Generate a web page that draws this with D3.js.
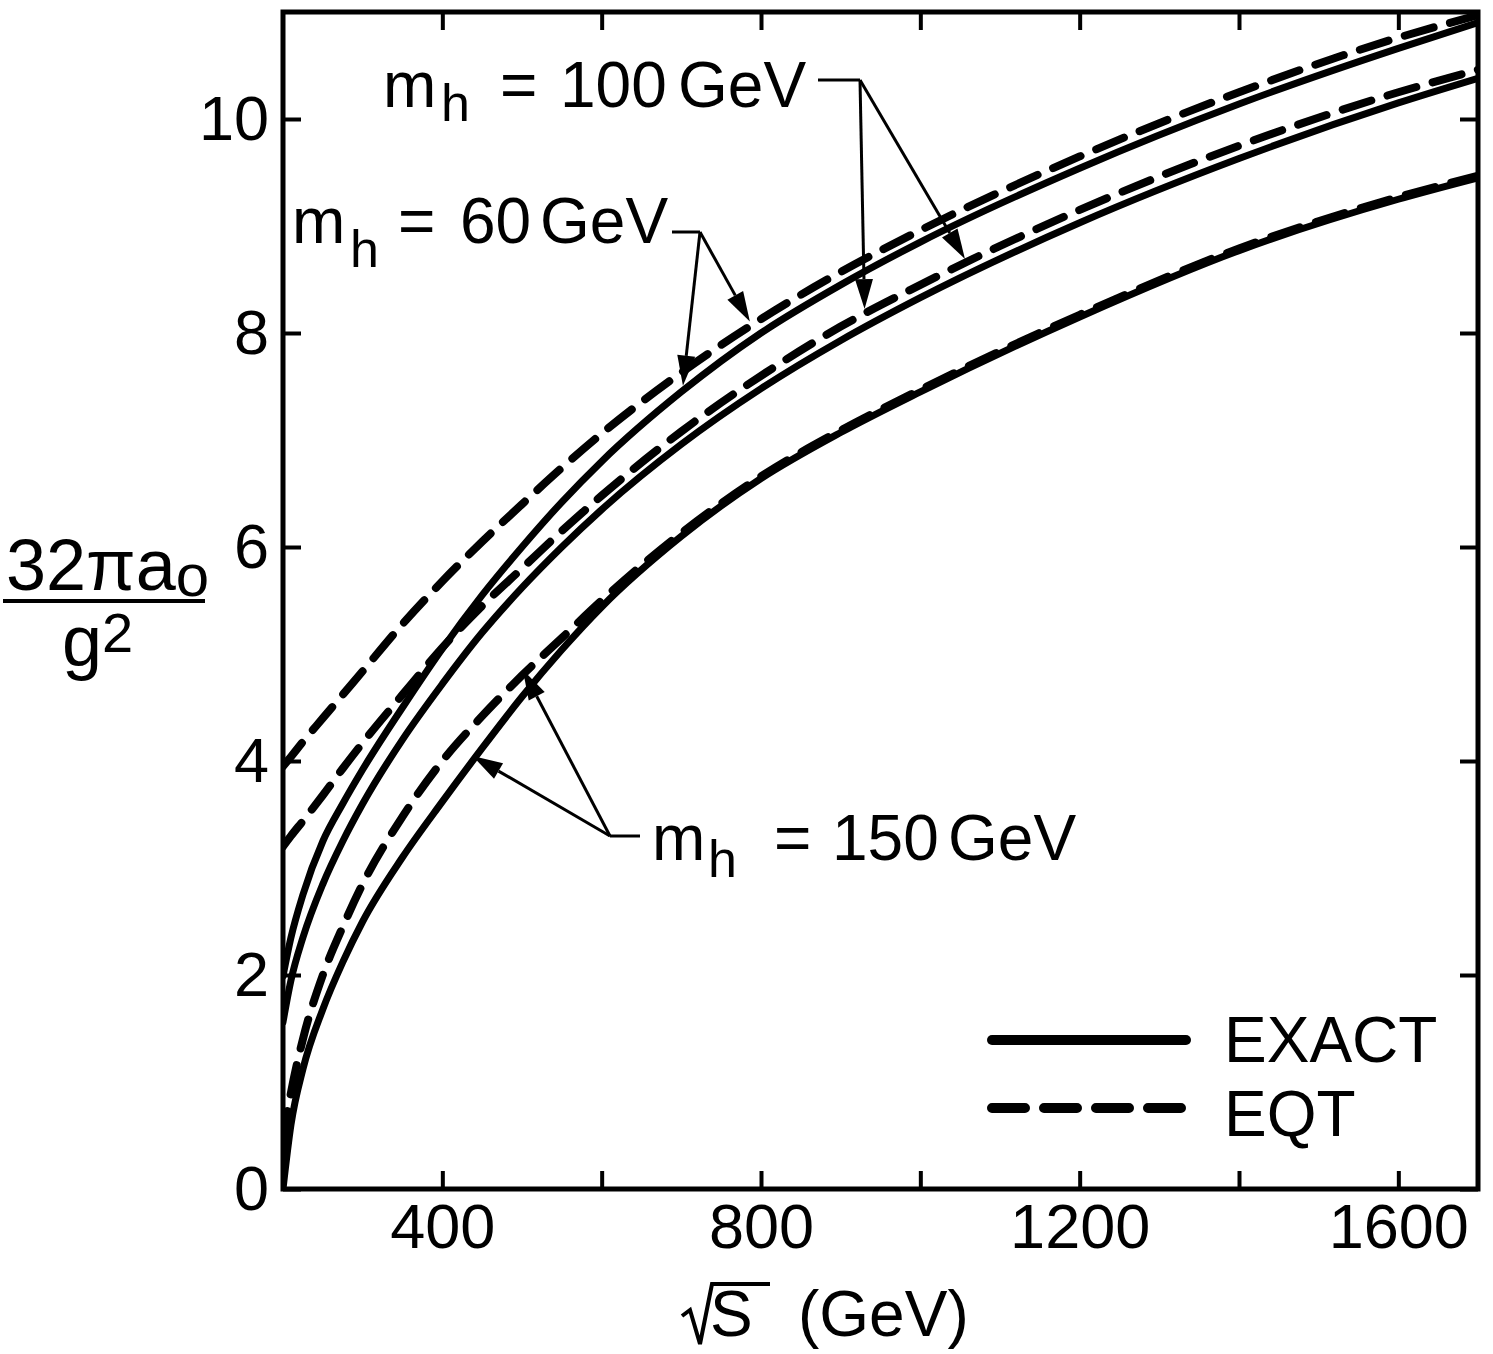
<!DOCTYPE html>
<html>
<head>
<meta charset="utf-8">
<script src="https://cdn.jsdelivr.net/npm/d3@7"></script>
<style>
body { margin: 0; background: #fff; }
text { font-family: "Liberation Sans", Arial, Helvetica, sans-serif; fill: #000; }
</style>
</head>
<body>
<svg id="chart" width="1493" height="1354"></svg>
<script>
// values (sqrt(s) in GeV)
var sqrtS   = [200, 210, 225, 250, 275, 300, 350, 400, 450, 500, 550, 600, 700, 800, 900, 1000, 1200, 1400, 1600, 1700];

// m_h = 60 GeV
var exact60 = [1.99, 2.35, 2.75, 3.25, 3.6, 3.92, 4.5, 5.05, 5.55, 6.0, 6.42, 6.8, 7.45, 8.0, 8.45, 8.85, 9.54, 10.14, 10.66, 10.9];
var eqt60   = [3.95, 4.04, 4.18, 4.4, 4.62, 4.84, 5.28, 5.68, 6.05, 6.4, 6.74, 7.06, 7.63, 8.13, 8.57, 8.96, 9.65, 10.25, 10.76, 10.97];
// m_h = 100 GeV
var exact100 = [1.56, 1.95, 2.35, 2.85, 3.25, 3.6, 4.2, 4.72, 5.2, 5.62, 6.0, 6.35, 6.96, 7.48, 7.93, 8.33, 9.03, 9.63, 10.15, 10.38];
var eqt100   = [3.2, 3.3, 3.44, 3.68, 3.93, 4.17, 4.62, 5.06, 5.45, 5.8, 6.15, 6.48, 7.08, 7.6, 8.06, 8.45, 9.15, 9.75, 10.25, 10.46];
// m_h = 150 GeV
var exact150 = [0, 0.6, 1.12, 1.68, 2.12, 2.5, 3.1, 3.62, 4.12, 4.6, 5.04, 5.44, 6.1, 6.64, 7.07, 7.45, 8.15, 8.77, 9.25, 9.45];
var eqt150   = [0.45, 0.9, 1.4, 2.0, 2.45, 2.85, 3.48, 4.0, 4.42, 4.8, 5.15, 5.5, 6.13, 6.66, 7.09, 7.47, 8.17, 8.79, 9.27, 9.47];

var xTicks = [400, 600, 800, 1000, 1200, 1400, 1600];
var xTickLabels = [400, 800, 1200, 1600];
var yTicks = [0, 2, 4, 6, 8, 10];

// where the label arrows hit the curves (sqrt(s) of the tip)
var arrows60 = [{s: 702, data: exact60}, {s: 786, data: eqt60}];
var arrows100 = [{s: 930, data: eqt100}, {s: 1056, data: eqt100}];
var arrows150 = [{s: 438, data: exact150}, {s: 501, data: eqt150}];

var margin = {top: 12, left: 283};
var width = 1478 - 283,
	height = 1189 - 12;

var svg = d3.select("#chart").append("g")
	.attr("transform", "translate(" + margin.left + "," + margin.top + ")");

var xScale = d3.scaleLinear().domain([200, 1700]).range([0, width]);
var yScale = d3.scaleLinear().domain([0, 11]).range([height, 0]);

svg.append("clipPath").attr("id", "plot-clip")
	.append("rect").attr("width", width).attr("height", height);

// axes, ticks pointing inward on all four sides
var xAxis = d3.axisBottom(xScale).tickValues(xTicks).tickSize(-18).tickPadding(14)
	.tickFormat(d => xTickLabels.indexOf(d) >= 0 ? d : "");
var xAxisTop = d3.axisTop(xScale).tickValues(xTicks).tickSize(-18).tickFormat("");
var yAxis = d3.axisLeft(yScale).tickValues(yTicks).tickSize(-18).tickPadding(14);
var yAxisRight = d3.axisRight(yScale).tickValues(yTicks).tickSize(-18).tickFormat("");

svg.append("g").attr("class", "axis").attr("transform", `translate(0, ${height})`).call(xAxis);
svg.append("g").attr("class", "axis").call(xAxisTop);
svg.append("g").attr("class", "axis").call(yAxis);
svg.append("g").attr("class", "axis").attr("transform", `translate(${width}, 0)`).call(yAxisRight);

svg.selectAll(".axis .domain").remove();
svg.selectAll(".axis line").attr("stroke", "#000").attr("stroke-width", 4);
svg.selectAll(".axis text")
	.style("font-family", '"Liberation Sans", Arial, sans-serif')
	.style("font-size", "63px")
	.attr("fill", "#000");

svg.append("rect")
	.attr("width", width).attr("height", height)
	.attr("fill", "none").attr("stroke", "#000").attr("stroke-width", 5);

// curves
var lineGenerator = d3.line()
	.curve(d3.curveMonotoneX)
	.x(function(d) { return xScale(d.s); })
	.y(function(d) { return yScale(d.v); });

function toPoints(values) {
	return sqrtS.map((s, i) => ({s: s, v: values[i]}));
}

var curves = [
	{values: exact60, dashed: false},
	{values: exact100, dashed: false},
	{values: exact150, dashed: false},
	{values: eqt60, dashed: true},
	{values: eqt100, dashed: true},
	{values: eqt150, dashed: true}
];

var lineGroup = svg.append("g").attr("clip-path", "url(#plot-clip)");
curves.forEach(function(c) {
	lineGroup.append("path")
		.datum(toPoints(c.values))
		.attr("d", lineGenerator)
		.attr("fill", "none")
		.attr("stroke", "#000")
		.attr("stroke-width", c.dashed ? 8 : 7)
		.attr("stroke-linecap", "round")
		.attr("stroke-dasharray", c.dashed ? "30,17" : null);
});

// value of a curve at some sqrt(s), linear between the read points
function valueAt(values, s) {
	var i = d3.bisectRight(sqrtS, s) - 1;
	i = Math.max(0, Math.min(sqrtS.length - 2, i));
	var t = (s - sqrtS[i]) / (sqrtS[i + 1] - sqrtS[i]);
	return values[i] + t * (values[i + 1] - values[i]);
}

var root = d3.select("#chart");

function drawArrow(x0, y0, x1, y1) {
	var dx = x1 - x0, dy = y1 - y0;
	var len = Math.sqrt(dx * dx + dy * dy);
	var ux = dx / len, uy = dy / len;
	var headLen = 30, headW = 9;
	var bx = x1 - ux * headLen, by = y1 - uy * headLen;
	root.append("line")
		.attr("x1", x0).attr("y1", y0).attr("x2", bx).attr("y2", by)
		.attr("stroke", "#000").attr("stroke-width", 3);
	root.append("path")
		.attr("d", `M${x1},${y1}L${bx - uy * headW},${by + ux * headW}L${bx + uy * headW},${by - ux * headW}Z`)
		.attr("fill", "#000");
}

function labelArrows(x0, y0, list) {
	list.forEach(function(a) {
		var tx = margin.left + xScale(a.s);
		var ty = margin.top + yScale(valueAt(a.data, a.s)) - 5;
		drawArrow(x0, y0, tx, ty);
	});
}

// m_h labels
function massLabel(x, y, hDrop, xh, xeq, xnum, num, xgev) {
	var t = root.append("text").attr("y", y).style("font-size", "64px");
	t.append("tspan").attr("x", x).text("m");
	t.append("tspan").attr("x", xh).attr("y", y + hDrop).style("font-size", "52px").text("h");
	t.append("tspan").attr("x", xeq).attr("y", y).text("=");
	t.append("tspan").attr("x", xnum).text(num);
	t.append("tspan").attr("x", xgev).text("GeV");
}

function stub(x0, y0, x1, y1) {
	root.append("line").attr("x1", x0).attr("y1", y0).attr("x2", x1).attr("y2", y1)
		.attr("stroke", "#000").attr("stroke-width", 3);
}

massLabel(383, 107, 14, 441, 500, 560, "100", 678);
stub(818, 80, 860, 80);
labelArrows(860, 80, arrows100);

massLabel(292, 243, 24, 350, 398, 460, "60", 540);
stub(672, 232, 700, 232);
labelArrows(700, 232, arrows60);

massLabel(652, 860, 17, 708, 774, 832, "150", 948);
stub(640, 836, 610, 836);
labelArrows(610, 836, arrows150);

// legend
root.append("line").attr("x1", 992).attr("y1", 1040).attr("x2", 1186).attr("y2", 1040)
	.attr("stroke", "#000").attr("stroke-width", 10).attr("stroke-linecap", "round");
root.append("line").attr("x1", 992).attr("y1", 1108).attr("x2", 1186).attr("y2", 1108)
	.attr("stroke", "#000").attr("stroke-width", 10).attr("stroke-linecap", "round")
	.attr("stroke-dasharray", "33,19");
root.append("text").attr("x", 1224).attr("y", 1062).style("font-size", "64px").text("EXACT");
root.append("text").attr("x", 1224).attr("y", 1136).style("font-size", "64px").text("EQT");

// y label: 32 pi a_o / g^2
var num = root.append("text").attr("x", 6).attr("y", 590).style("font-size", "72px");
num.append("tspan").text("32\u03C0a");
num.append("tspan").attr("dy", 6).style("font-size", "60px").text("o");
root.append("line").attr("x1", 3).attr("y1", 601).attr("x2", 205).attr("y2", 601)
	.attr("stroke", "#000").attr("stroke-width", 4);
var den = root.append("text").attr("x", 62).attr("y", 666).style("font-size", "72px");
den.append("tspan").text("g");
den.append("tspan").attr("dy", -14).style("font-size", "56px").text("2");

// x label: sqrt(S) (GeV)
root.append("path")
	.attr("d", "M682,1316L690,1310L700,1344L712,1284L770,1284")
	.attr("fill", "none").attr("stroke", "#000").attr("stroke-width", 4);
root.append("text").attr("x", 710).attr("y", 1336).style("font-size", "64px").text("S");
root.append("text").attr("x", 798).attr("y", 1336).style("font-size", "64px").text("(GeV)");
</script>
</body>
</html>
